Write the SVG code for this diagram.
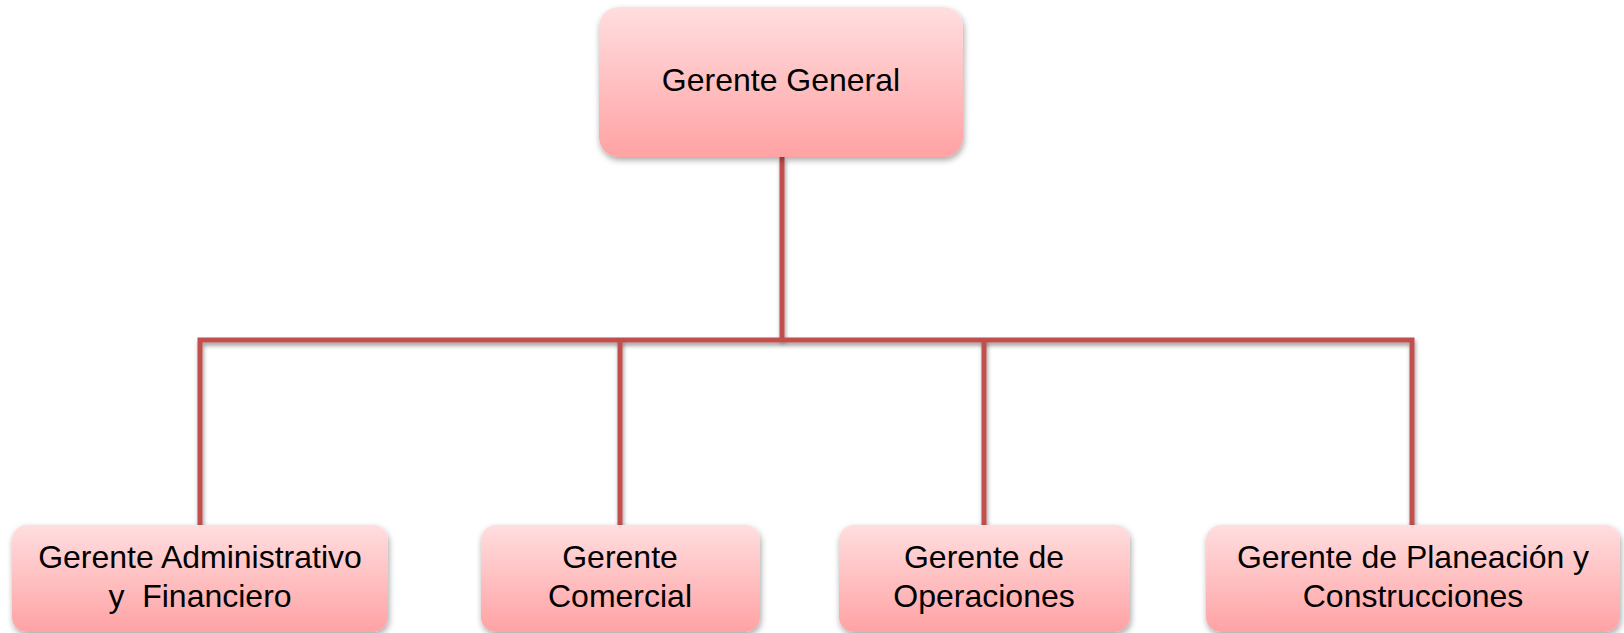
<svg xmlns="http://www.w3.org/2000/svg" width="1624" height="633" viewBox="0 0 1624 633">
<style>
.box{fill:url(#g);filter:url(#sh)}
.lbl{font-family:"Liberation Sans",Arial,sans-serif;font-size:32px;fill:#000;text-anchor:middle;white-space:pre}
.conn{fill:none;stroke:#C0504D;stroke-width:5;stroke-linejoin:miter;filter:url(#lsh)}
</style>
<defs>
<linearGradient id="g" x1="0" y1="0" x2="0" y2="1">
<stop offset="0" stop-color="#FFDEDF"/>
<stop offset="1" stop-color="#FFA2A4"/>
</linearGradient>
<filter id="sh" x="-10%" y="-10%" width="120%" height="130%">
<feDropShadow dx="1" dy="3" stdDeviation="3" flood-color="#000" flood-opacity="0.35"/>
</filter>
<filter id="lsh" filterUnits="userSpaceOnUse" x="0" y="0" width="1624" height="633">
<feDropShadow dx="1" dy="3" stdDeviation="2" flood-color="#000" flood-opacity="0.4"/>
</filter>
</defs>
<rect width="1624" height="633" fill="#FFFFFF"/>
<g id="connectors">
<path class="conn" d="M782 157 V340"/>
<path class="conn" d="M200 525 V340 H1412 V525"/>
<path class="conn" d="M620 340 V525"/>
<path class="conn" d="M984 340 V525"/>
</g>
<g id="gerente-general">
<rect class="box" x="599" y="7" width="364" height="150" rx="20"/>
<text class="lbl" x="781" y="91">Gerente General</text>
</g>
<g id="gerente-administrativo">
<rect class="box" x="12" y="525" width="376" height="107" rx="15"/>
<text class="lbl" x="200" y="568">Gerente Administrativo</text>
<text class="lbl" x="200" y="607">y  Financiero</text>
</g>
<g id="gerente-comercial">
<rect class="box" x="481" y="525" width="279" height="107" rx="15"/>
<text class="lbl" x="620" y="568">Gerente</text>
<text class="lbl" x="620" y="607">Comercial</text>
</g>
<g id="gerente-operaciones">
<rect class="box" x="839" y="525" width="291" height="107" rx="15"/>
<text class="lbl" x="984" y="568">Gerente de</text>
<text class="lbl" x="984" y="607">Operaciones</text>
</g>
<g id="gerente-planeacion">
<rect class="box" x="1206" y="525" width="414" height="107" rx="15"/>
<text class="lbl" x="1413" y="568">Gerente de Planeación y</text>
<text class="lbl" x="1413" y="607">Construcciones</text>
</g>
</svg>
